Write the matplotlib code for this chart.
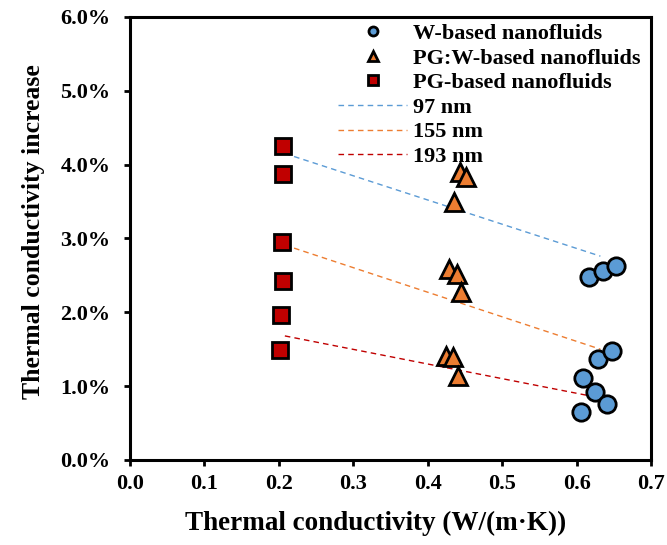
import numpy as np
import matplotlib.pyplot as plt
from matplotlib.ticker import FuncFormatter

plt.rcParams['font.family'] = 'Liberation Serif'
plt.rcParams['font.weight'] = 'bold'

# thermal conductivity (W/(m.K)) vs. conductivity increase (%)
w_k = [0.617, 0.636, 0.653, 0.629, 0.647, 0.609, 0.625, 0.641, 0.606]
w_inc = [2.48, 2.56, 2.63, 1.37, 1.47, 1.11, 0.92, 0.76, 0.65]

pgw_k = [0.443, 0.451, 0.435, 0.429, 0.439, 0.445, 0.425, 0.434, 0.441]
pgw_inc = [3.90, 3.83, 3.50, 2.58, 2.52, 2.27, 1.41, 1.39, 1.14]

pg_k = [0.205, 0.206, 0.204, 0.205, 0.203, 0.201]
pg_inc = [4.25, 3.87, 2.95, 2.42, 1.96, 1.49]

# linear trends per particle size
trend_k = [0.208, 0.632]
trend_97 = [4.15, 2.76]
trend_155 = [2.91, 1.50]
trend_193 = [1.68, 0.84]

blue = '#5B9BD5'
orange = '#ED7D31'
red = '#C00000'

fig = plt.figure(figsize=(6.67, 5.45), dpi=100)
ax = fig.add_axes([0.195, 0.156, 0.781, 0.813])

ax.plot(trend_k, trend_97, '--', color=blue, lw=1, dashes=(4, 3), zorder=2)
ax.plot(trend_k, trend_155, '--', color=orange, lw=1, dashes=(4, 3), zorder=2)
ax.plot(trend_k, trend_193, '--', color=red, lw=1, dashes=(4, 3), zorder=2)

ax.plot(w_k, w_inc, 'o', ms=12.5, mfc=blue, mec='black', mew=2, zorder=3)
ax.plot(pgw_k, pgw_inc, '^', ms=12.5, mfc=orange, mec='black', mew=2, zorder=3)
ax.plot(pg_k, pg_inc, 's', ms=11.5, mfc=red, mec='black', mew=2, zorder=3)

h1, = ax.plot([], [], 'o', ms=6.5, mfc=blue, mec='black', mew=2)
h2, = ax.plot([], [], '^', ms=6.5, mfc=orange, mec='black', mew=2)
h3, = ax.plot([], [], 's', ms=6.5, mfc=red, mec='black', mew=2)
h4, = ax.plot([], [], '--', color=blue, lw=1, dashes=(4, 3))
h5, = ax.plot([], [], '--', color=orange, lw=1, dashes=(4, 3))
h6, = ax.plot([], [], '--', color=red, lw=1, dashes=(4, 3))
ax.legend([h1, h2, h3, h4, h5, h6],
          ['W-based nanofluids', 'PG:W-based nanofluids', 'PG-based nanofluids',
           '97 nm', '155 nm', '193 nm'],
          loc='upper left', bbox_to_anchor=(0.40, 0.985), frameon=False,
          borderpad=0, borderaxespad=0, handlelength=3.1, handletextpad=0.27,
          labelspacing=0.18, prop={'size': 16, 'weight': 'bold'})

ax.set_xlim(0, 0.7)
ax.set_ylim(0, 6)
ax.set_xticks(np.arange(0, 0.71, 0.1))
ax.set_yticks(np.arange(0, 6.1, 1))
ax.xaxis.set_major_formatter(FuncFormatter(lambda v, p: f'{v:.1f}'))
ax.yaxis.set_major_formatter(FuncFormatter(lambda v, p: f'{v:.1f}%'))
ax.tick_params(direction='out', length=4, width=2, labelsize=16)
ax.tick_params(axis='x', pad=6)
ax.tick_params(axis='y', pad=10)
for s in ax.spines.values():
    s.set_linewidth(2.2)

ax.set_xlabel('Thermal conductivity (W/(m·K))', fontsize=19.5, fontweight='bold')
ax.set_ylabel('Thermal conductivity increase', fontsize=18.5, fontweight='bold')
ax.xaxis.set_label_coords(0.472, -0.115)
ax.yaxis.set_label_coords(-0.164, 0.516)

fig.savefig('out.png', dpi=100)
